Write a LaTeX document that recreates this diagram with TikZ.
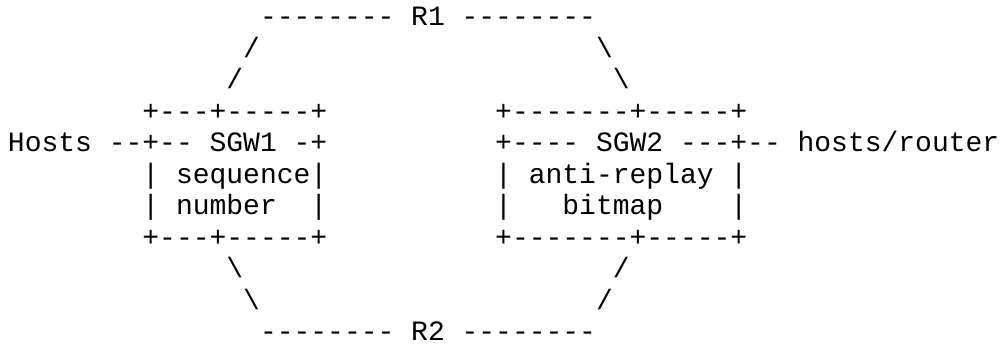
\documentclass[tikz,border=0pt]{standalone}
\usepackage{fontspec}
\setmonofont{Liberation Mono}
\newcommand\tk[4]{\node[tok] (#1) at ({8+16.8*#2},{345-26-31.5*(#3-1)}) {#4};}
\begin{document}
\begin{tikzpicture}[x=1pt,y=1pt,
  tok/.style={anchor=base west,inner sep=0pt,outer sep=0pt,
    font=\fontsize{28}{31.5}\selectfont\ttfamily,text=black}]
\useasboundingbox (0,0) rectangle (1003,345);
% row 1
\tk{d1a}{15}{1}{--------}
\tk{R1}{24}{1}{R1}
\tk{d1b}{27}{1}{--------}
% rows 2-3
\tk{s2a}{14}{2}{/}
\tk{s2b}{35}{2}{\textbackslash}
\tk{s3a}{13}{3}{/}
\tk{s3b}{36}{3}{\textbackslash}
% row 4
\tk{b1top}{8}{4}{+---+-----+}
\tk{b2top}{29}{4}{+-------+-----+}
% row 5
\tk{hosts}{0}{5}{Hosts}
\tk{h5a}{6}{5}{--+--}
\tk{SGW1}{12}{5}{SGW1}
\tk{h5b}{17}{5}{-+}
\tk{h5c}{29}{5}{+----}
\tk{SGW2}{35}{5}{SGW2}
\tk{h5d}{40}{5}{---+--}
\tk{hr}{47}{5}{hosts/router}
% row 6
\tk{v6a}{8}{6}{|}
\tk{seq}{10}{6}{sequence}
\tk{v6b}{18}{6}{|}
\tk{v6c}{29}{6}{|}
\tk{ar}{31}{6}{anti-replay}
\tk{v6d}{43}{6}{|}
% row 7
\tk{v7a}{8}{7}{|}
\tk{num}{10}{7}{number}
\tk{v7b}{18}{7}{|}
\tk{v7c}{29}{7}{|}
\tk{bm}{33}{7}{bitmap}
\tk{v7d}{43}{7}{|}
% row 8
\tk{b1bot}{8}{8}{+---+-----+}
\tk{b2bot}{29}{8}{+-------+-----+}
% rows 9-10
\tk{s9a}{13}{9}{\textbackslash}
\tk{s9b}{36}{9}{/}
\tk{s10a}{14}{10}{\textbackslash}
\tk{s10b}{35}{10}{/}
% row 11
\tk{d11a}{15}{11}{--------}
\tk{R2}{24}{11}{R2}
\tk{d11b}{27}{11}{--------}
\end{tikzpicture}
\end{document}
